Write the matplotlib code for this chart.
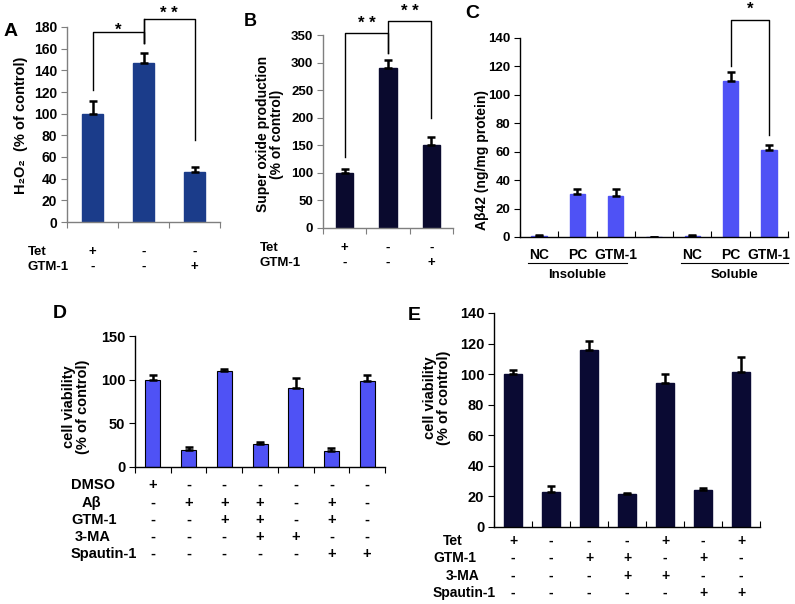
import matplotlib
matplotlib.use("Agg")
import matplotlib.pyplot as plt
import matplotlib.transforms as mtransforms
import numpy as np

plt.rcParams['font.family'] = ['Liberation Sans', 'DejaVu Sans']
plt.rcParams['font.weight'] = 'bold'

W, H = 795, 604

# panel A
a_vals = [100, 147, 46]
a_err = [12, 9, 5]
a_tet = ['+', '-', '-']
a_gtm = ['-', '-', '+']

# panel B
b_vals = [100, 290, 150]
b_err = [7, 14, 15]
b_tet = ['+', '-', '-']
b_gtm = ['-', '-', '+']

# panel C
c_labels = ['NC', 'PC', 'GTM-1', '', 'NC', 'PC', 'GTM-1']
c_vals = [0.8, 30, 29, 0, 0.8, 110, 61]
c_err = [0.4, 3.5, 5, 0, 0.4, 6, 4]
c_groups = ['Insoluble', 'Soluble']

# panel D
d_vals = [100, 20, 110, 26, 90, 18, 99]
d_err = [5.5, 3, 2, 3, 12, 4, 6]
d_rows = {
    'DMSO':      ['+', '-', '-', '-', '-', '-', '-'],
    'Aβ':        ['-', '+', '+', '+', '-', '+', '-'],
    'GTM-1':     ['-', '-', '+', '+', '-', '+', '-'],
    '3-MA':      ['-', '-', '-', '+', '+', '-', '-'],
    'Spautin-1': ['-', '-', '-', '-', '-', '+', '+'],
}

# panel E
e_vals = [100, 23, 116, 21.5, 94, 24, 101.5]
e_err = [2.5, 3.5, 6, 0.5, 6, 1.3, 10]
e_rows = {
    'Tet':       ['+', '-', '-', '-', '+', '-', '+'],
    'GTM-1':     ['-', '-', '+', '+', '-', '+', '-'],
    '3-MA':      ['-', '-', '-', '+', '+', '-', '-'],
    'Spautin-1': ['-', '-', '-', '-', '-', '+', '+'],
}

fig = plt.figure(figsize=(W / 100, H / 100), dpi=100)


def px_axes(x0, ytop, x1, ybot):
    return fig.add_axes([x0 / W, 1 - ybot / H, (x1 - x0) / W, (ybot - ytop) / H])


def fy(py):
    return 1 - py / H


def ftext(px, py, s, **kw):
    fig.text(px / W, fy(py), s, **kw)


def setup(ax, vals, err, color, ylim, yticks, width, tickdir, spine_col, fs):
    x = np.arange(len(vals))
    ax.bar(x, vals, width=width, color=color, edgecolor=color, zorder=2)
    lower = np.zeros(len(vals))
    ax.errorbar(x, vals, yerr=[lower, err], fmt='none', ecolor='black',
                elinewidth=1.8, capsize=3, capthick=1.8, zorder=3)
    ax.set_xlim(-0.5, len(vals) - 0.5)
    ax.set_ylim(*ylim)
    ax.set_yticks(yticks)
    ax.set_xticks(np.arange(len(vals) + 1) - 0.5)
    ax.set_xticklabels([])
    for s in ['top', 'right']:
        ax.spines[s].set_visible(False)
    for s in ['left', 'bottom']:
        ax.spines[s].set_color(spine_col)
        ax.spines[s].set_linewidth(1)
    ax.tick_params(axis='y', direction='out', length=4, color=spine_col,
                   labelsize=fs, pad=3)
    ax.tick_params(axis='x', direction=tickdir, length=4, color=spine_col)
    for lab in ax.get_yticklabels():
        lab.set_fontweight('bold')
    return x


def bracket(ax, x0, x1, ytop, y0, y1, stars, dy):
    ax.plot([x0, x0, x1, x1], [y0, ytop, ytop, y1], color='black', lw=1,
            clip_on=False)
    ax.text((x0 + x1) / 2, ytop + dy, stars, ha='center', va='center',
            fontsize=12, fontweight='bold', clip_on=False)


def sign_rows(ax, rows, ys, lx, fs):
    tr = mtransforms.blended_transform_factory(ax.transData, fig.transFigure)
    for (name, signs), py, x_l in zip(rows.items(), ys, lx):
        ftext(x_l, py, name, ha='left', va='center', fontsize=fs,
              fontweight='bold')
        for i, s in enumerate(signs):
            ax.text(i, fy(py), s, transform=tr, ha='center', va='center',
                    fontsize=fs, fontweight='bold')


# ---- A
axA = px_axes(67, 27, 220, 222)
setup(axA, a_vals, a_err, '#1B3C8A', (0, 180), range(0, 181, 20), 0.4,
      'out', '#7f7f7f', 10)
bracket(axA, 0, 1, 175, 122, 165, '*', 2)
bracket(axA, 1, 2, 187, 165, 76, '* *', 5)
axA.plot([1, 1], [165, 187], color='black', lw=1, clip_on=False)
ftext(21, 125, 'H\u2082O\u2082  (% of control)', rotation=90, ha='center',
      va='center', fontsize=10.5, fontweight='bold')
ftext(4, 32, 'A', fontsize=14, fontweight='bold', va='center')
sign_rows(axA, {'Tet': a_tet, 'GTM-1': a_gtm}, [252, 267], [28, 28], 9.5)

# ---- B
axB = px_axes(323, 35, 453, 228)
setup(axB, b_vals, b_err, '#0A0A2E', (0, 350), range(0, 351, 50), 0.4,
      'out', '#7f7f7f', 9.5)
bracket(axB, 0, 1, 354, 129, 318, '* *', 16)
bracket(axB, 1, 2, 376, 318, 200, '* *', 16)
ftext(270, 134, 'Super oxide production\n(% of control)', rotation=90,
      ha='center', va='center', fontsize=10, fontweight='bold',
      linespacing=1.05)
ftext(244, 22, 'B', fontsize=13, va='center')
sign_rows(axB, {'Tet': b_tet, 'GTM-1': b_gtm}, [248, 263], [260, 260], 9.5)

# ---- C
axC = px_axes(520, 38, 788, 237)
setup(axC, c_vals, c_err, '#4F52F5', (0, 140), range(0, 141, 20), 0.4,
      'in', 'black', 9.5)
bracket(axC, 5, 6, 153, 120, 72, '*', 7)
trC = mtransforms.blended_transform_factory(axC.transData, fig.transFigure)
for i, lab in enumerate(c_labels):
    axC.text(i, fy(255), lab, transform=trC, ha='center', va='center',
             fontsize=10, fontweight='bold')
for g, (x0, x1) in zip(c_groups, [(-0.3, 2.3), (3.7, 6.5)]):
    axC.plot([x0, x1], [fy(263), fy(263)], transform=trC, color='black',
             lw=0.8, clip_on=False)
    axC.text((x0 + x1) / 2, fy(275), g, transform=trC, ha='center',
             va='center', fontsize=9.5, fontweight='bold')
ftext(482, 160, 'A\u03b242 (ng/mg protein)', rotation=90, ha='center',
      va='center', fontsize=10, fontweight='bold')
ftext(465, 13, 'C', fontsize=14, fontweight='bold', va='center')

# ---- D
axD = px_axes(135, 336, 385, 467)
setup(axD, d_vals, d_err, '#4F52F5', (0, 150), range(0, 151, 50), 0.42,
      'out', 'black', 10.5)
for p in axD.patches:
    p.set_edgecolor('black')
    p.set_linewidth(0.8)
ftext(76, 407, 'cell viability\n(% of control)', rotation=90, ha='center',
      va='center', fontsize=10.5, fontweight='bold', linespacing=1.05)
ftext(53, 313, 'D', fontsize=14, fontweight='bold', va='center')
sign_rows(axD, d_rows, [485, 503, 520, 537, 554], [71, 82, 71, 75, 71], 10.5)

# ---- E
axE = px_axes(494, 313, 760, 527)
setup(axE, e_vals, e_err, '#0A0A33', (0, 140), range(0, 141, 20), 0.45,
      'in', 'black', 10.5)
ftext(437, 398, 'cell viability\n(% of control)', rotation=90, ha='center',
      va='center', fontsize=10.5, fontweight='bold', linespacing=1.05)
ftext(408, 315, 'E', fontsize=14, fontweight='bold', va='center')
sign_rows(axE, e_rows, [541, 558, 576, 593], [443, 433, 446, 433], 10)

fig.savefig('out.png', dpi=100, facecolor='white')
